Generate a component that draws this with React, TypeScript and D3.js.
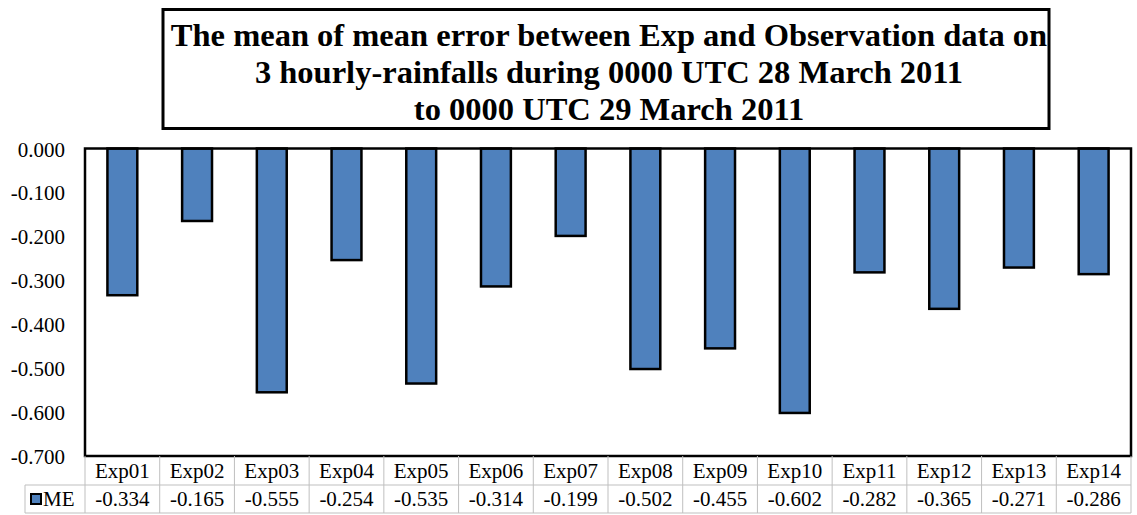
import React from "react";
import * as d3 from "d3";

const categories = ["Exp01","Exp02","Exp03","Exp04","Exp05","Exp06","Exp07","Exp08","Exp09","Exp10","Exp11","Exp12","Exp13","Exp14"];
const meValues = [-0.334,-0.165,-0.555,-0.254,-0.535,-0.314,-0.199,-0.502,-0.455,-0.602,-0.282,-0.365,-0.271,-0.286];
const yTicks = [0,-0.1,-0.2,-0.3,-0.4,-0.5,-0.6,-0.7];
const seriesName = "ME";
const titleLines = [
  "The mean of mean error between Exp and Observation data on",
  "3 hourly-rainfalls during 0000 UTC 28 March 2011",
  "to 0000 UTC 29 March 2011",
];

export default function App() {
  const W = 1137, H = 515;
  const left = 85, right = 1131, top = 148.5, bottom = 456;
  const x = d3.scaleBand<string>().domain(categories).range([left, right]).paddingInner(0.6).paddingOuter(0.3);
  const band = d3.scaleBand<string>().domain(categories).range([left, right]);
  const y = d3.scaleLinear().domain([0, -0.7]).range([top, bottom]);
  const f3 = d3.format(".3f");
  const fmt = (v: number) => f3(v).replace("\u2212", "-");
  const font = "Liberation Serif";
  const row1 = 485, row2 = 513;
  return (
    <svg width={W} height={H} style={{ position: "absolute", left: 0, top: 0, background: "#fff" }}>
      <rect x={0} y={0} width={W} height={H} fill="#fff" />
      {/* title */}
      <rect x={163} y={9.5} width={886} height={119} fill="#fff" stroke="#000" strokeWidth={3} />
      {titleLines.map((t, i) => (
        <text key={i} x={609} y={46 + i * 37} textAnchor="middle" style={{ fontFamily: font }} fontWeight="bold" fontSize={32.5} fill="#000">{t}</text>
      ))}
      {/* y ticks */}
      {yTicks.map((v) => (
        <text key={v} x={65} y={y(v) + 8} textAnchor="end" style={{ fontFamily: font }} fontSize={21} fill="#000">{fmt(v)}</text>
      ))}
      {/* bars */}
      {categories.map((c, i) => {
        const v = meValues[i];
        return (
          <rect key={c} x={x(c)!} y={y(0)} width={x.bandwidth()} height={y(v) - y(0)} fill="#4F81BD" stroke="#000" strokeWidth={2.5} />
        );
      })}
      {/* plot frame */}
      <rect x={left} y={top} width={right - left} height={bottom - top} fill="none" stroke="#000" strokeWidth={2.5} />
      {/* data table */}
      <g stroke="#bfbfbf" strokeWidth={1}>
        <line x1={25} x2={right} y1={row1} y2={row1} />
        <line x1={25} x2={right} y1={row2} y2={row2} />
        <line x1={25} x2={25} y1={row1} y2={row2} />
        {categories.map((c) => (
          <line key={c} x1={band(c)! + band.bandwidth()} x2={band(c)! + band.bandwidth()} y1={bottom} y2={row2} />
        ))}
        <line x1={left} x2={left} y1={bottom} y2={row2} />
      </g>
      {categories.map((c, i) => (
        <g key={c}>
          <text x={band(c)! + band.bandwidth() / 2} y={478} textAnchor="middle" style={{ fontFamily: font }} fontSize={21} fill="#000">{c}</text>
          <text x={band(c)! + band.bandwidth() / 2} y={506} textAnchor="middle" style={{ fontFamily: font }} fontSize={21} fill="#000">{fmt(meValues[i])}</text>
        </g>
      ))}
      <rect x={31} y={494} width={10} height={10} fill="#4F81BD" stroke="#000" strokeWidth={2} />
      <text x={43} y={506} style={{ fontFamily: font }} fontSize={21} fill="#000">{seriesName}</text>
    </svg>
  );
}
